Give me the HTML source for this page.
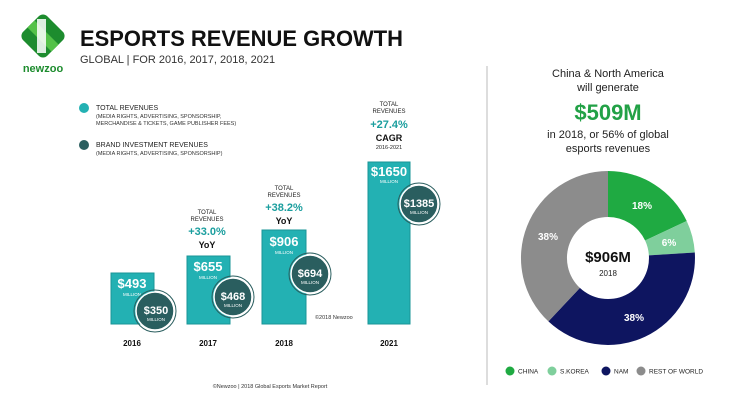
<!DOCTYPE html>
<html><head><style>
body{margin:0;width:730px;height:410px;background:#fff;overflow:hidden;font-family:"Liberation Sans",sans-serif}
</style></head><body>
<svg width="730" height="410" viewBox="0 0 730 410" font-family="Liberation Sans, sans-serif">
<!-- logo -->
<g transform="translate(43,36) rotate(45)">
<rect x="-17" y="-17" width="34" height="34" rx="6" fill="#1d8c2e"/>
<rect x="-17" y="-5" width="34" height="10" fill="#54c248"/>
<rect x="-6" y="-17" width="9" height="34" fill="#fff" opacity="0.85" transform="rotate(-45)"/>
</g>
<text x="43" y="72" font-size="11" font-weight="bold" fill="#1d8c2e" text-anchor="middle">newzoo</text>
<text x="80" y="46" font-size="22" font-weight="bold" fill="#111" textLength="323" lengthAdjust="spacingAndGlyphs">ESPORTS REVENUE GROWTH</text>
<text x="80" y="63" font-size="11" fill="#333">GLOBAL | FOR 2016, 2017, 2018, 2021</text>
<!-- legend -->
<circle cx="84" cy="108" r="5" fill="#23b1b3"/>
<text x="96" y="110" font-size="7" fill="#222">TOTAL REVENUES</text>
<text x="96" y="118" font-size="5.5" fill="#333">(MEDIA RIGHTS, ADVERTISING, SPONSORSHIP,</text>
<text x="96" y="125" font-size="5.5" fill="#333">MERCHANDISE &amp; TICKETS, GAME PUBLISHER FEES)</text>
<circle cx="84" cy="145" r="5" fill="#2a5e5f"/>
<text x="96" y="147" font-size="7" fill="#222">BRAND INVESTMENT REVENUES</text>
<text x="96" y="155" font-size="5.5" fill="#333">(MEDIA RIGHTS, ADVERTISING, SPONSORSHIP)</text>
<!-- bars -->
<g fill="#23b1b3" stroke="#1a9597" stroke-width="1">
<rect x="111" y="273" width="43" height="51"/>
<rect x="187" y="256" width="43" height="68"/>
<rect x="262" y="230" width="44" height="94"/>
<rect x="368" y="162" width="42" height="162"/>
</g>
<g fill="#fff" text-anchor="middle" font-weight="bold">
<text x="132" y="288" font-size="13">$493</text><text x="132" y="296" font-size="4.5" font-weight="normal">MILLION</text>
<text x="208" y="271" font-size="13">$655</text><text x="208" y="279" font-size="4.5" font-weight="normal">MILLION</text>
<text x="284" y="246" font-size="13">$906</text><text x="284" y="254" font-size="4.5" font-weight="normal">MILLION</text>
<text x="389" y="176" font-size="13">$1650</text><text x="389" y="183" font-size="4.5" font-weight="normal">MILLION</text>
</g>
<g fill="#2a5e5f" stroke="#fff" stroke-width="1.5">
<circle cx="155" cy="311" r="19"/><circle cx="233" cy="297" r="19"/><circle cx="310" cy="274" r="19"/><circle cx="419" cy="204" r="19"/>
</g>
<g fill="none" stroke="#2a5e5f" stroke-width="1">
<circle cx="155" cy="311" r="21"/><circle cx="233" cy="297" r="21"/><circle cx="310" cy="274" r="21"/><circle cx="419" cy="204" r="21"/>
</g>
<g fill="#fff" text-anchor="middle" font-weight="bold">
<text x="156" y="314" font-size="11">$350</text><text x="156" y="321" font-size="4.5" font-weight="normal">MILLION</text>
<text x="233" y="300" font-size="11">$468</text><text x="233" y="307" font-size="4.5" font-weight="normal">MILLION</text>
<text x="310" y="277" font-size="11">$694</text><text x="310" y="284" font-size="4.5" font-weight="normal">MILLION</text>
<text x="419" y="207" font-size="11">$1385</text><text x="419" y="214" font-size="4.5" font-weight="normal">MILLION</text>
</g>
<!-- annotations -->
<g text-anchor="middle">
<text x="207" y="214" font-size="6" fill="#222">TOTAL</text><text x="207" y="221" font-size="6" fill="#222">REVENUES</text>
<text x="207" y="235" font-size="11" font-weight="bold" fill="#1a9e9e">+33.0%</text>
<text x="207" y="248" font-size="9" font-weight="bold" fill="#111">YoY</text>
<text x="284" y="190" font-size="6" fill="#222">TOTAL</text><text x="284" y="197" font-size="6" fill="#222">REVENUES</text>
<text x="284" y="211" font-size="11" font-weight="bold" fill="#1a9e9e">+38.2%</text>
<text x="284" y="224" font-size="9" font-weight="bold" fill="#111">YoY</text>
<text x="389" y="106" font-size="6" fill="#222">TOTAL</text><text x="389" y="113" font-size="6" fill="#222">REVENUES</text>
<text x="389" y="128" font-size="11" font-weight="bold" fill="#1a9e9e">+27.4%</text>
<text x="389" y="141" font-size="9" font-weight="bold" fill="#111">CAGR</text>
<text x="389" y="149" font-size="5.5" fill="#222">2016-2021</text>
<text x="132" y="346" font-size="8" font-weight="bold" fill="#111">2016</text>
<text x="208" y="346" font-size="8" font-weight="bold" fill="#111">2017</text>
<text x="284" y="346" font-size="8" font-weight="bold" fill="#111">2018</text>
<text x="389" y="346" font-size="8" font-weight="bold" fill="#111">2021</text>
<text x="270" y="388" font-size="5.5" fill="#333">©Newzoo | 2018 Global Esports Market Report</text>
</g>
<text x="315" y="319" font-size="5.5" fill="#333">©2018 Newzoo</text>
<line x1="487" y1="66" x2="487" y2="385" stroke="#bbb" stroke-width="1"/>
<!-- right -->
<g text-anchor="middle">
<text x="608" y="77" font-size="11" fill="#222">China &amp; North America</text>
<text x="608" y="91" font-size="11" fill="#222">will generate</text>
<text x="608" y="120" font-size="22" font-weight="bold" fill="#22a146">$509M</text>
<text x="608" y="138" font-size="11" fill="#222">in 2018, or 56% of global</text>
<text x="608" y="152" font-size="11" fill="#222">esports revenues</text>
</g>
<path d="M608,171 A87,87 0 0 1 686.7,221 L645.1,240.5 A41,41 0 0 0 608,217 Z" fill="#1faa42"/>
<path d="M686.7,221 A87,87 0 0 1 694.8,252.5 L648.9,255.4 A41,41 0 0 0 645.1,240.5 Z" fill="#7fcf9c"/>
<path d="M694.8,252.5 A87,87 0 0 1 548.4,321.4 L579.9,287.9 A41,41 0 0 0 648.9,255.4 Z" fill="#0e1560"/>
<path d="M548.4,321.4 A87,87 0 0 1 608,171 L608,217 A41,41 0 0 0 579.9,287.9 Z" fill="#8c8c8c"/>
<g fill="#fff" font-weight="bold" font-size="10" text-anchor="middle">
<text x="642" y="209">18%</text><text x="669" y="246">6%</text>
<text x="634" y="321">38%</text><text x="548" y="240">38%</text>
</g>
<text x="608" y="262" font-size="15" font-weight="bold" fill="#111" text-anchor="middle">$906M</text>
<text x="608" y="276" font-size="8" fill="#222" text-anchor="middle">2018</text>
<g font-size="6.5" fill="#222">
<circle cx="510" cy="371" r="4.5" fill="#1faa42"/><text x="518" y="373.5">CHINA</text>
<circle cx="552" cy="371" r="4.5" fill="#7fcf9c"/><text x="560" y="373.5">S.KOREA</text>
<circle cx="606" cy="371" r="4.5" fill="#0e1560"/><text x="614" y="373.5">NAM</text>
<circle cx="641" cy="371" r="4.5" fill="#8c8c8c"/><text x="649" y="373.5">REST OF WORLD</text>
</g>
</svg>
</body></html>
